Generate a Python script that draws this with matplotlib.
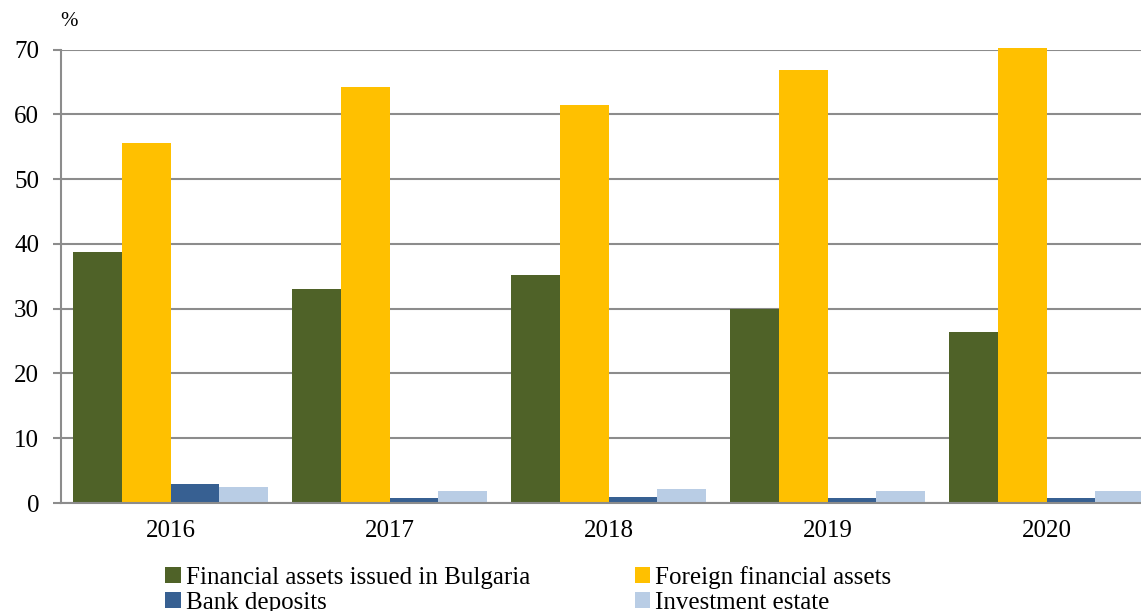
import matplotlib
matplotlib.use("Agg")
import matplotlib.pyplot as plt
import numpy as np
from matplotlib.patches import Patch

years = ["2016", "2017", "2018", "2019", "2020"]
series_names = ["Financial assets issued in Bulgaria", "Foreign financial assets",
                "Bank deposits", "Investment estate"]
fin_bg = [38.7, 33.0, 35.2, 29.9, 26.4]
foreign = [55.6, 64.2, 61.4, 66.9, 70.2]
deposits = [2.9, 0.8, 1.0, 0.8, 0.8]
estate = [2.4, 1.8, 2.1, 1.8, 1.8]
colors = ["#4F6228", "#FFC000", "#376092", "#B9CDE5"]

plt.rcParams['font.family'] = ['Liberation Serif', 'DejaVu Serif']

W, H = 1141, 611
fig = plt.figure(figsize=(W / 100, H / 100), dpi=100)
ymax = 70
top_px = 49.5
ax = fig.add_axes([61 / W, 1 - 503 / H, (1156 - 61) / W, (503 - top_px) / H])

x = np.arange(len(years))
bw = 0.2215
all_series = [fin_bg, foreign, deposits, estate]
for i, (vals, c) in enumerate(zip(all_series, colors)):
    ax.bar(x + (i - 1.5) * bw, vals, width=bw, color=c, zorder=3, linewidth=0,
           clip_on=False)

ax.set_xlim(-0.5, len(years) - 0.5)
ax.set_ylim(0, ymax)
ax.set_yticks(range(0, 71, 10))
ax.set_xticks(x)
ax.set_xticklabels(years)
ax.yaxis.grid(True, color="#8c8c8c", linewidth=1.5, zorder=0)
for s in ["top", "right"]:
    ax.spines[s].set_visible(False)
for s in ["left", "bottom"]:
    ax.spines[s].set_color("#8c8c8c")
    ax.spines[s].set_linewidth(1.5)
    ax.spines[s].set_zorder(4)
ax.tick_params(axis="y", length=5.8, width=1.5, color="#8c8c8c", labelsize=18, pad=10)
ax.tick_params(axis="x", length=0, labelsize=18, pad=12)

fig.text(60 / W, 1 - 22 / H, "%", fontsize=15, ha="left", va="center")

handles = [Patch(facecolor=colors[i], edgecolor="none") for i in range(4)]
order = [0, 2, 1, 3]
leg = fig.legend([handles[i] for i in order], [series_names[i] for i in order],
                 ncol=2, loc="center left", bbox_to_anchor=(165 / W, 1 - 590 / H),
                 frameon=False, fontsize=18, handlelength=0.62, handleheight=0.62,
                 handletextpad=0.2, columnspacing=4.2, labelspacing=0.12,
                 borderpad=0, borderaxespad=0)

fig.savefig("out.png", dpi=100)
